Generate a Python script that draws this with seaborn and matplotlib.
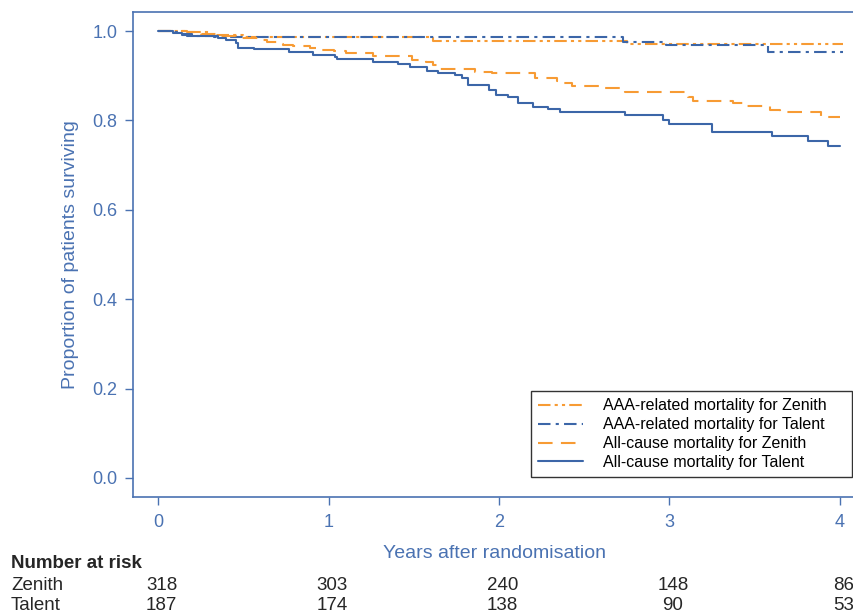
import matplotlib
matplotlib.use("Agg")
import matplotlib.pyplot as plt
import matplotlib.transforms as mtransforms
import pandas as pd
import seaborn as sns

# Kaplan-Meier step curves (years, proportion surviving)
allcause_talent_t = [0, 0.09, 0.14, 0.17, 0.35, 0.40, 0.46, 0.47, 0.56, 0.77, 0.91,
                     1.04, 1.05, 1.26, 1.41, 1.48, 1.58, 1.64, 1.74, 1.78, 1.82, 1.94, 1.98,
                     2.05, 2.11, 2.20, 2.29, 2.36, 2.74, 2.96, 3.00,
                     3.25, 3.60, 3.81, 3.93, 4.0]
allcause_talent_s = [1.0, 0.996, 0.992, 0.988, 0.984, 0.980, 0.973, 0.963, 0.960, 0.953, 0.947,
                     0.943, 0.937, 0.931, 0.926, 0.920, 0.910, 0.906, 0.901, 0.895, 0.880, 0.868, 0.858,
                     0.853, 0.838, 0.830, 0.825, 0.818, 0.813, 0.800, 0.792,
                     0.774, 0.765, 0.754, 0.743, 0.743]

allcause_zenith_t = [0, 0.07, 0.17, 0.25, 0.35, 0.46, 0.60, 0.64, 0.70, 0.73, 0.79, 0.89, 0.93,
                     1.03, 1.10, 1.26, 1.49, 1.57, 1.61, 1.65, 1.86, 1.96,
                     2.21, 2.34, 2.38, 2.43, 2.59, 2.74,
                     3.11, 3.14, 3.37, 3.43, 3.59, 3.65, 3.89, 4.0]
allcause_zenith_s = [1.0, 0.999, 0.997, 0.993, 0.989, 0.985, 0.980, 0.976, 0.972, 0.969, 0.966, 0.961, 0.957,
                     0.955, 0.950, 0.944, 0.935, 0.931, 0.924, 0.916, 0.909, 0.907,
                     0.896, 0.888, 0.883, 0.877, 0.873, 0.864,
                     0.853, 0.843, 0.838, 0.833, 0.823, 0.818, 0.808, 0.808]

aaa_talent_t = [0, 0.09, 0.14, 0.20, 0.33, 2.73, 2.98, 3.58, 4.02]
aaa_talent_s = [1.0, 0.997, 0.993, 0.990, 0.987, 0.976, 0.969, 0.954, 0.954]

aaa_zenith_t = [0, 0.17, 0.30, 0.50, 1.61, 2.75, 4.02]
aaa_zenith_s = [1.0, 0.997, 0.992, 0.986, 0.978, 0.972, 0.972]

# number at risk table
risk_times = [0, 1, 2, 3, 4]
zenith_risk = [318, 303, 240, 148, 86]
talent_risk = [187, 174, 138, 90, 53]

blue = "#3C66A8"
orange = "#F79B34"
axcol = "#4A72B2"

sns.set_style("white")
plt.rcParams["font.family"] = ["Liberation Sans", "DejaVu Sans"]

fig = plt.figure(figsize=(8.54, 6.15), dpi=100)
ax = fig.add_axes([133 / 854, 1 - 497 / 615, 723 / 854, 485 / 615])

curves = [
    ("AAA-related mortality for Zenith", aaa_zenith_t, aaa_zenith_s, orange, (0, (6, 2, 1.5, 2, 1.5, 2))),
    ("AAA-related mortality for Talent", aaa_talent_t, aaa_talent_s, blue, (0, (6, 2.5, 1.5, 2.5))),
    ("All-cause mortality for Zenith", allcause_zenith_t, allcause_zenith_s, orange, (0, (7, 4))),
    ("All-cause mortality for Talent", allcause_talent_t, allcause_talent_s, blue, "-"),
]
for name, t, s, col, ls in curves:
    df = pd.DataFrame({"t": t, "s": s})
    sns.lineplot(data=df, x="t", y="s", ax=ax, color=col, linestyle=ls,
                 drawstyle="steps-post", estimator=None, linewidth=1.5, label=name)

ax.set_xlim(-0.147, 4.094)
ax.set_ylim(-0.0426, 1.0426)
ax.set_xticks(risk_times)
ax.set_yticks([0.0, 0.2, 0.4, 0.6, 0.8, 1.0])
ax.set_yticklabels(["0.0", "0.2", "0.4", "0.6", "0.8", "1.0"])
ax.tick_params(axis="both", direction="out", length=6, width=1, color=axcol,
               labelcolor=axcol, labelsize=13, pad=5, bottom=True, left=True)
ax.tick_params(axis="x", pad=6)
for sp in ax.spines.values():
    sp.set_color(axcol)
    sp.set_linewidth(1.2)
ax.set_xlabel("Years after randomisation", color=axcol, fontsize=14, labelpad=10)
ax.set_ylabel("Proportion of patients surviving", color=axcol, fontsize=14, labelpad=10)

leg = ax.legend(loc="lower left", bbox_to_anchor=(0.5505, 0.041, 0.444, 0.18), mode="expand",
                borderaxespad=0, fontsize=11.5, frameon=True, fancybox=False, handlelength=2.8,
                handletextpad=1.25, labelspacing=0.24, borderpad=0.45)
leg.get_frame().set_edgecolor("black")
leg.get_frame().set_linewidth(1.0)
for txt in leg.get_texts():
    txt.set_color("black")

# number at risk rows below the axis
trans = mtransforms.blended_transform_factory(ax.transData, fig.transFigure)
fig.text(11 / 854, 1 - 564 / 615, "Number at risk", fontsize=13.5, fontweight="bold", va="center")
fig.text(11 / 854, 1 - 585 / 615, "Zenith", fontsize=13.5, va="center")
fig.text(11 / 854, 1 - 605 / 615, "Talent", fontsize=13.5, va="center")
for x, z, tl in zip(risk_times, zenith_risk, talent_risk):
    ax.text(x + 0.02, 1 - 585 / 615, str(z), transform=trans, ha="center", va="center",
            fontsize=13.5, clip_on=False)
    ax.text(x + 0.02, 1 - 605 / 615, str(tl), transform=trans, ha="center", va="center",
            fontsize=13.5, clip_on=False)

fig.savefig("out.png", dpi=100)
